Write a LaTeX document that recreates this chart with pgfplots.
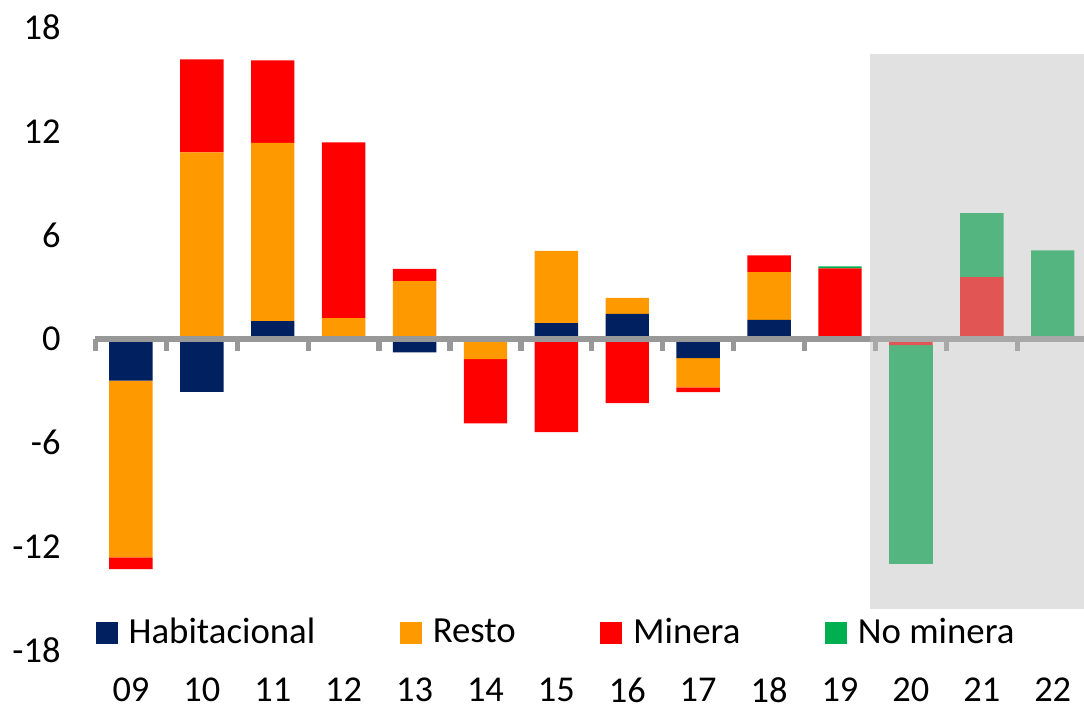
\documentclass[border=0pt]{standalone}
\usepackage{fontspec}
\setmainfont{Carlito}
\usepackage{pgfplots}
\usepackage{pgfplotstable}
\pgfplotsset{compat=1.18}

\definecolor{habit}{RGB}{0,32,96}
\definecolor{resto}{RGB}{255,153,0}
\definecolor{minera}{RGB}{255,0,0}
\definecolor{nominera}{RGB}{0,176,80}
\definecolor{ejegris}{RGB}{152,152,152}
\definecolor{sombra}{RGB}{189,189,189}

% aportes positivos (por tramo)
\pgfplotstableread{
x  hab   resto  minera nomin
0  0     0      0      0
1  0     10.79  5.38   0
2  1.04  10.29  4.77   0
3  0     1.21   10.16  0
4  0     3.35   0.70   0
5  0     0      0      0
6  0.92  4.17   0      0
7  1.45  0.93   0      0
8  0     0      0      0
9  1.10  2.77   0.97   0
10 0     0      4.08   0.12
11 0     0      0      0
12 0     0      3.57   3.71
13 0     0      0      5.13
}\positivos

% aportes negativos (por tramo)
\pgfplotstableread{
x  hab    resto   minera nomin
0  -2.41  -10.21  -0.68  0
1  -3.06  0       0      0
2  0      0       0      0
3  0      0       0      0
4  -0.77  0       0      0
5  0      -1.16   -3.71  0
6  0      0       -5.39  0
7  0      0       -3.70  0
8  -1.10  -1.70   -0.27  0
9  0      0       0      0
10 0      0       0      0
11 0      0       -0.35  -12.65
12 0      0       0      0
13 0      0       0      0
}\negativos

\pgfplotsset{
  base/.style={
    width=494.2pt, height=311.4pt, scale only axis,
    xmin=-0.5, xmax=13.44, ymin=-18, ymax=18,
  },
  barras/.style={ybar stacked, bar width=21.7pt},
  every tick label/.append style={font=\fontsize{18.2}{22}\selectfont},
}

\begin{document}
\begin{tikzpicture}

\begin{axis}[base, barras,
  axis line style={draw=none},
  major tick length=0pt,
  ytick={-18,-12,-6,0,6,12,18},
  yticklabels={-18,-12,-6,0,6,12,18},
  yticklabel style={anchor=east, inner sep=0pt, xshift=-17.3pt},
  xtick={0,...,13},
  xticklabels={09,10,11,12,13,14,15,16,17,18,19,20,21,22},
  xticklabel style={anchor=center, inner sep=0pt, yshift=-19.8pt},
]
\addplot[fill=habit, draw=none] table[x=x, y=hab] {\positivos};
\addplot[fill=resto, draw=none] table[x=x, y=resto] {\positivos};
\addplot[fill=minera, draw=none] table[x=x, y=minera] {\positivos};
\addplot[fill=nominera, draw=none] table[x=x, y=nomin] {\positivos};
\end{axis}

\begin{axis}[base, barras, hide axis]
\addplot[fill=habit, draw=none] table[x=x, y=hab] {\negativos};
\addplot[fill=resto, draw=none] table[x=x, y=resto] {\negativos};
\addplot[fill=minera, draw=none] table[x=x, y=minera] {\negativos};
\addplot[fill=nominera, draw=none] table[x=x, y=nomin] {\negativos};
\end{axis}

\begin{axis}[base,
  axis x line=middle, axis y line=none,
  axis line style={ejegris, line width=2.85pt, -},
  xtick={-0.5,0.5,...,12.5}, xticklabels={},
  tick align=outside, major tick length=5.85pt,
  x tick style={ejegris, line width=2.65pt},
  ytick=\empty,
  legend columns=4,
  legend style={draw=none, fill=none, inner sep=0pt, at={(0,0.0286)}, anchor=west,
    font=\fontsize{18.4}{22}\selectfont, nodes={inner sep=0pt},
    /tikz/every odd column/.append style={column sep=5.5pt},
    /tikz/every even column/.append style={column sep=42.3pt}},
]
\addlegendimage{legend image code/.code={\fill[habit] (0pt,-5.25pt) rectangle (10.5pt,5.25pt);}}
\addlegendentry{Habitacional}
\addlegendimage{legend image code/.code={\fill[resto] (0pt,-5.25pt) rectangle (10.5pt,5.25pt);}}
\addlegendentry{Resto}
\addlegendimage{legend image code/.code={\fill[minera] (0pt,-5.25pt) rectangle (10.5pt,5.25pt);}}
\addlegendentry{Minera}
\addlegendimage{legend image code/.code={\fill[nominera] (0pt,-5.25pt) rectangle (10.5pt,5.25pt);}}
\addlegendentry{No minera}
\coordinate (s1) at (axis cs:10.42,-15.6);
\coordinate (s2) at (axis cs:13.44,16.47);
\end{axis}

\fill[sombra, fill opacity=0.45] (s1) rectangle (s2);

\pgfresetboundingbox
\path[use as bounding box] (-47.75pt,-31.3pt) rectangle (494.25pt,325.2pt);
\end{tikzpicture}
\end{document}
